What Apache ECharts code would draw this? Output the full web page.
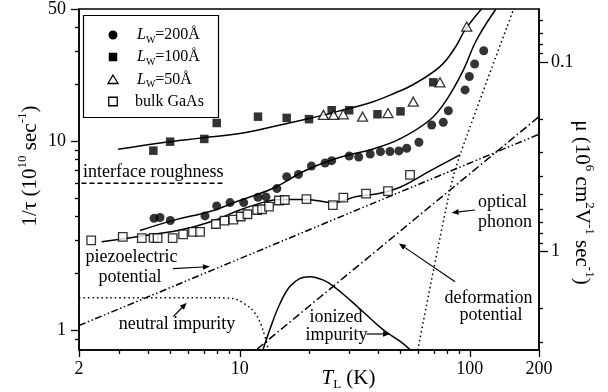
<!DOCTYPE html>
<html><head><meta charset="utf-8">
<script src="https://cdn.jsdelivr.net/npm/echarts@6/dist/echarts.min.js"></script>
<style>html,body{margin:0;padding:0;background:#fff}#c{width:608px;height:392px}</style>
</head><body><div id="c"></div>
<script>
// ---------------- data ----------------
const T_MIN = 2, T_MAX = 200;          // T_L (K)
const V_MIN = 0.7909, V_MAX = 50;      // 1/tau (10^10 s^-1)
const MU_K = 2.614;                    // mu = MU_K / (1/tau)

const xMajorTicks = [2, 10, 100, 200];
const xMinorTicks = [3, 4, 5, 6, 7, 8, 9, 20, 30, 40, 50, 60, 70, 80, 90];
const yMajorTicks = [1, 10, 50];
const yMinorTicks = [0.9, 2, 3, 4, 5, 6, 7, 8, 9, 20, 30, 40];
const muMajorTicks = [0.1, 1];
const muMinorTicks = [0.06, 0.07, 0.08, 0.09, 0.2, 0.3, 0.4, 0.5, 0.6, 0.7, 0.8, 0.9, 2, 3];

const lw200T = [4.24, 4.50, 4.99, 7.06, 7.94, 9.07, 10.4, 12.0, 13.0, 14.5, 16.0, 18.0, 20.5, 23.5, 25.1, 29.9, 32.9, 36.9, 40.9, 45.0, 49.2, 53.2, 60.1, 68.3, 76.7, 80.7, 95.4, 99.6, 105, 115];
const lw200V = [3.92, 3.96, 3.82, 4.04, 4.56, 4.75, 4.75, 5.07, 5.09, 5.63, 6.51, 6.69, 7.41, 7.69, 7.91, 8.37, 8.27, 8.58, 8.82, 8.84, 8.90, 9.20, 9.89, 12.2, 12.6, 14.5, 18.7, 22.0, 25.6, 30.1];
const lw100T = [4.21, 4.98, 7.01, 7.94, 12.0, 16.0, 20.0, 25.1, 29.9, 39.7, 50.0, 69.4];
const lw100V = [8.93, 9.96, 10.3, 12.5, 13.5, 13.3, 13.1, 14.6, 14.6, 13.9, 14.4, 20.5];
const lw50T = [23.1, 25.6, 28.2, 34.2, 44.1, 56.8, 74.2, 97.0];
const lw50V = [13.8, 13.8, 13.9, 13.5, 14.1, 16.2, 20.5, 40.4];
const bulkT = [2.26, 3.10, 3.75, 4.22, 4.39, 5.11, 5.67, 6.26, 6.72, 7.88, 8.58, 9.38, 10.1, 10.8, 11.9, 12.5, 13.4, 14.8, 15.7, 19.5, 25.4, 28.2, 35.4, 44.1, 55.0];
const bulkV = [3.00, 3.13, 3.08, 3.09, 3.08, 3.08, 3.23, 3.33, 3.33, 3.66, 3.81, 3.86, 4.01, 4.12, 4.34, 4.38, 4.52, 4.87, 4.90, 4.95, 4.60, 5.04, 5.29, 5.46, 6.65];

// calculated curves
const fit100T = [2.96, 4.5, 6.72, 10.0, 15.0, 20.0, 26.7, 38.0, 47.3, 56.6, 74.2, 86.3, 95.4, 112.5];
const fit100V = [9.08, 9.81, 10.4, 11.0, 12.2, 13.2, 14.4, 16.2, 18.0, 19.9, 24.8, 31.2, 38.8, 50];
const fit200T = [3.68, 5.23, 7.42, 10.0, 13.95, 19.5, 27.3, 38.0, 49.7, 67.2, 79.4, 93.8, 107, 130];
const fit200V = [3.38, 3.85, 4.26, 4.87, 5.65, 7.06, 8.24, 9.12, 10.3, 13.0, 16.6, 23.8, 34.3, 50];
const fitBulkT = [2.51, 3.68, 5.50, 7.42, 10.0, 12.9, 15.0, 19.5, 25.4, 32.2, 40.7, 49.7, 67.2, 90.7];
const fitBulkV = [2.95, 3.15, 3.40, 3.75, 4.34, 4.79, 4.93, 4.93, 4.75, 5.11, 5.32, 5.72, 6.98, 8.48];
const roughT = [2.05, 8.5];
const roughV = [6.0, 6.0];
const neutralT = [2, 6.7, 9.3, 11.1, 12.0, 12.6, 13.1, 13.3];
const neutralV = [1.495, 1.495, 1.48, 1.32, 1.17, 1.01, 0.86, 0.79];
const ionizedT = [12.6, 13.8, 15.0, 16.5, 18.3, 20.2, 23.1, 25.5, 30.2, 35.6, 42.1, 49.7, 55.0];
const ionizedV = [0.79, 1.09, 1.40, 1.71, 1.89, 1.93, 1.85, 1.72, 1.45, 1.21, 1.01, 0.88, 0.795];
const piezoT = [2, 200];
const piezoV = [1.065, 10.9];
const deformT = [11.9, 200];
const deformV = [0.80, 13.5];
const opticalT = [59.4, 82.0, 90.7, 155.2];
const opticalV = [0.79, 5.54, 8.48, 50];

// annotation arrows in data coordinates: [from T, from V, to T, to V] (head at "to")
const arrowsData = [
  [5.12, 2.13, 7.42, 2.18],
  [5.14, 1.186, 5.88, 1.406],
  [35.6, 0.961, 45.0, 0.961],
  [105.4, 4.34, 83.4, 4.20],
  [86.3, 1.815, 49.2, 2.89]
];

// ---------------- chart ----------------
const FONT = "'Liberation Serif','Times New Roman',serif";
const chart = echarts.init(document.getElementById('c'), null, {renderer: 'canvas', width: 608, height: 392});
const pairs = (xs, ys) => xs.map((x, i) => [x, ys[i]]);

function logAxis(extra) {
  return Object.assign({
    type: 'log', logBase: 10,
    splitLine: {show: false}, minorTick: {show: false}, minorSplitLine: {show: false},
    axisLine: {show: true, lineStyle: {color: '#000', width: 1.5}},
    axisLabel: {show: false}
  }, extra);
}
function ticks(len, vals) {
  return {show: true, inside: false, length: len, customValues: vals, lineStyle: {color: '#000', width: 1.3}};
}
function labels(vals, margin) {
  return {show: true, customValues: vals, margin: margin, color: '#000', fontSize: 18, fontFamily: FONT};
}

function lineSeries(name, xs, ys, type, smooth, z) {
  return {
    name: name, type: 'line', data: pairs(xs, ys), showSymbol: false, symbol: 'none',
    smooth: smooth, z: z || 2, silent: true,
    lineStyle: {color: '#000', width: 1.5, type: type || 'solid', cap: 'butt'}
  };
}

const option = {
  animation: false,
  backgroundColor: '#fff',
  grid: {left: 79, right: 69, top: 9, bottom: 42, show: true, borderColor: '#000', borderWidth: 1.5, backgroundColor: 'transparent'},
  xAxis: [
    logAxis({min: T_MIN, max: T_MAX, position: 'bottom', axisTick: ticks(7, xMajorTicks), axisLabel: labels(xMajorTicks, 10)}),
    logAxis({min: T_MIN, max: T_MAX, position: 'bottom', axisLine: {show: false}, axisTick: ticks(4, xMinorTicks)})
  ],
  yAxis: [
    logAxis({min: V_MIN, max: V_MAX, position: 'left', axisTick: ticks(8, yMajorTicks), axisLabel: labels(yMajorTicks, 13)}),
    logAxis({min: V_MIN, max: V_MAX, position: 'left', axisLine: {show: false}, axisTick: ticks(4, yMinorTicks)}),
    logAxis({min: MU_K / V_MAX, max: MU_K / V_MIN, inverse: true, position: 'right', axisTick: ticks(9, muMajorTicks), axisLabel: labels(muMajorTicks, 12)}),
    logAxis({min: MU_K / V_MAX, max: MU_K / V_MIN, inverse: true, position: 'right', axisLine: {show: false}, axisTick: ticks(4, muMinorTicks)})
  ],
  series: [
    lineSeries('fit 100', fit100T, fit100V, 'solid', 0.4),
    lineSeries('fit 200', fit200T, fit200V, 'solid', 0.4),
    lineSeries('fit bulk', fitBulkT, fitBulkV, 'solid', 0.4),
    lineSeries('interface roughness', roughT, roughV, [5, 3], false),
    lineSeries('neutral impurity', neutralT, neutralV, [1.5, 3], 0.3),
    lineSeries('ionized impurity', ionizedT, ionizedV, 'solid', 0.4),
    lineSeries('piezoelectric potential', piezoT, piezoV, [7, 2.5, 1.5, 2.5, 1.5, 2.5], false),
    lineSeries('deformation potential', deformT, deformV, [8, 3, 1.5, 3], false),
    lineSeries('optical phonon', opticalT, opticalV, [1.5, 3], 0.3),
    {name: 'Lw=200Å', type: 'scatter', data: pairs(lw200T, lw200V), symbol: 'circle', symbolSize: 9, z: 5,
      itemStyle: {color: '#000'}},
    {name: 'Lw=100Å', type: 'scatter', data: pairs(lw100T, lw100V), symbol: 'rect', symbolSize: 8.5, z: 5,
      itemStyle: {color: '#000'}},
    {name: 'Lw=50Å', type: 'scatter', data: pairs(lw50T, lw50V), symbol: 'triangle', symbolSize: [10, 9], z: 5,
      itemStyle: {color: '#fff', borderColor: '#000', borderWidth: 1.3}},
    {name: 'bulk GaAs', type: 'scatter', data: pairs(bulkT, bulkV), symbol: 'rect', symbolSize: 8.5, z: 5,
      itemStyle: {color: '#fff', borderColor: '#000', borderWidth: 1.3}}
  ]
};
chart.setOption(option);

// ---------------- text / annotation graphics ----------------
const mctx = document.createElement('canvas').getContext('2d');
function fontStr(s) { return (s.italic ? 'italic ' : '') + s.size + 'px ' + FONT; }
function segW(s) { mctx.font = fontStr(s); return mctx.measureText(s.t).width; }
function segLabel(segs, x, y, rotation, align) {
  const ws = segs.map(segW);
  const total = ws.reduce((a, b) => a + b, 0);
  let cx = align === 'left' ? 0 : -total / 2;
  const children = segs.map((s, i) => {
    const el = {type: 'text', x: cx, y: s.dy || 0,
      style: {text: s.t, fontSize: s.size, fontFamily: FONT, fontStyle: s.italic ? 'italic' : 'normal',
        fill: '#000', align: 'left', verticalAlign: 'middle'}};
    cx += ws[i];
    return el;
  });
  return {type: 'group', x: x, y: y, rotation: rotation || 0, children: children, z: 20};
}
function txt(t, x, y, align) {
  return {type: 'text', x: x, y: y, z: 20,
    style: {text: t, fontSize: 18, fontFamily: FONT, fill: '#000', align: align || 'center', verticalAlign: 'middle'}};
}
function arrow(a) {
  const p0 = chart.convertToPixel({xAxisIndex: 0, yAxisIndex: 0}, [a[0], a[1]]);
  const p1 = chart.convertToPixel({xAxisIndex: 0, yAxisIndex: 0}, [a[2], a[3]]);
  const dx = p1[0] - p0[0], dy = p1[1] - p0[1];
  const L = Math.hypot(dx, dy), ux = dx / L, uy = dy / L;
  const hl = 7, hw = 2.8;
  const bx = p1[0] - ux * hl, by = p1[1] - uy * hl;
  return [
    {type: 'line', z: 20, shape: {x1: p0[0], y1: p0[1], x2: bx, y2: by}, style: {stroke: '#000', lineWidth: 1.2}},
    {type: 'polygon', z: 20, shape: {points: [[p1[0], p1[1]], [bx - uy * hw, by + ux * hw], [bx + uy * hw, by - ux * hw]]}, style: {fill: '#000'}}
  ];
}

const G = [];
G.push({type: 'rect', z: 20, shape: {x: 83.5, y: 15.5, width: 135, height: 102}, style: {fill: 'none', stroke: '#000', lineWidth: 1.2}});
const lx = 113, ltx = 137, lrows = [35, 57, 79.5, 101.5];
G.push({type: 'circle', z: 20, shape: {cx: lx, cy: lrows[0], r: 4.5}, style: {fill: '#000'}});
G.push({type: 'rect', z: 20, shape: {x: lx - 4.25, y: lrows[1] - 4.25, width: 8.5, height: 8.5}, style: {fill: '#000'}});
G.push({type: 'polygon', z: 20, shape: {points: [[lx, lrows[2] - 4.5], [lx + 5, lrows[2] + 4], [lx - 5, lrows[2] + 4]]}, style: {fill: '#fff', stroke: '#000', lineWidth: 1.3}});
G.push({type: 'rect', z: 20, shape: {x: lx - 4.25, y: lrows[3] - 4.25, width: 8.5, height: 8.5}, style: {fill: '#fff', stroke: '#000', lineWidth: 1.3}});
['200', '100', '50'].forEach((n, i) => {
  G.push(segLabel([{t: 'L', size: 16, italic: true}, {t: 'W', size: 10, dy: 5}, {t: '=' + n + 'Å', size: 16}], ltx, lrows[i], 0, 'left'));
});
G.push(segLabel([{t: 'bulk GaAs', size: 16}], ltx - 2, lrows[3], 0, 'left'));

G.push(segLabel([{t: 'T', size: 21, italic: true}, {t: 'L', size: 13, dy: 6}, {t: ' (K)', size: 21}], 348.5, 378.5, 0, 'center'));
G.push(segLabel([{t: '1/τ (10', size: 21}, {t: '10', size: 13, dy: -7}, {t: ' sec', size: 21}, {t: '-1', size: 13, dy: -7}, {t: ')', size: 21}], 30, 166, Math.PI / 2, 'center'));
G.push(segLabel([{t: 'μ (10', size: 21}, {t: '6', size: 13, dy: -7}, {t: ' cm', size: 21}, {t: '2', size: 13, dy: -7}, {t: 'V', size: 21}, {t: '-1', size: 13, dy: -7}, {t: ' sec', size: 21}, {t: '-1', size: 13, dy: -7}, {t: ')', size: 21}], 582, 202.5, -Math.PI / 2, 'center'));

G.push(txt('interface roughness', 83, 172, 'left'));
G.push(txt('piezoelectric', 131.5, 257));
G.push(txt('potential', 130, 277));
G.push(txt('neutral impurity', 177, 324));
G.push(txt('ionized', 336, 317));
G.push(txt('impurity', 336.5, 335));
G.push(txt('optical', 478, 202, 'left'));
G.push(txt('phonon', 478, 222, 'left'));
G.push(txt('deformation', 488.5, 298));
G.push(txt('potential', 491, 315));
arrowsData.forEach(a => arrow(a).forEach(e => G.push(e)));

chart.setOption({graphic: G});
</script>
</body></html>
